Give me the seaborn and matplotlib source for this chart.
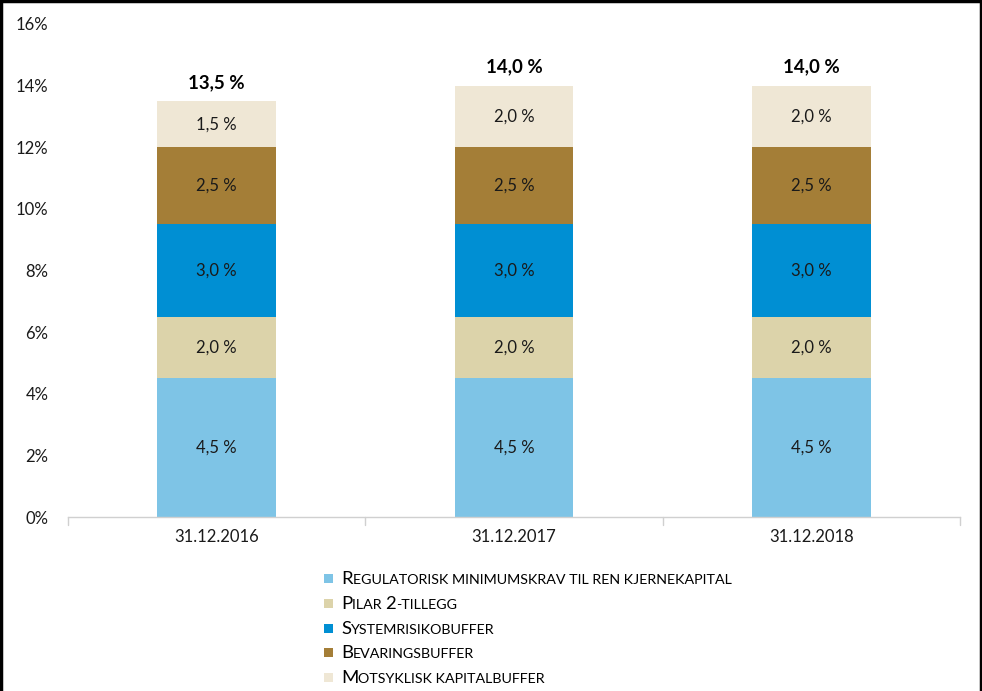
import matplotlib
matplotlib.use("Agg")
import matplotlib.pyplot as plt
import seaborn as sns
import pandas as pd
import numpy as np
from matplotlib.patches import Rectangle
from matplotlib.lines import Line2D

dates = ["31.12.2016", "31.12.2017", "31.12.2018"]
series = ["Regulatorisk minimumskrav til ren kjernekapital", "Pilar 2-tillegg",
          "Systemrisikobuffer", "Bevaringsbuffer", "Motsyklisk kapitalbuffer"]
regulatorisk = [4.5, 4.5, 4.5]
pilar2 = [2.0, 2.0, 2.0]
systemrisiko = [3.0, 3.0, 3.0]
bevaring = [2.5, 2.5, 2.5]
motsyklisk = [1.5, 2.0, 2.0]
totals = [13.5, 14.0, 14.0]
colors = ["#7EC4E6", "#DCD3AA", "#008FD3", "#A47E37", "#EFE7D5"]

sns.set_theme(style="white")
plt.rcParams['font.family'] = ['Lato', 'DejaVu Sans']

values = [regulatorisk, pilar2, systemrisiko, bevaring, motsyklisk]
cum = np.cumsum(np.array(values), axis=0)

fig = plt.figure(figsize=(9.82, 6.91), dpi=100)
ax = fig.add_axes([68/982, 1-517/691, (960-68)/982, (517-24)/691])

# draw cumulative bars from top segment down so lower ones overlay
for i in range(len(series)-1, -1, -1):
    df = pd.DataFrame({"date": dates, "val": cum[i]})
    sns.barplot(data=df, x="date", y="val", color=colors[i], width=0.4,
                saturation=1, ax=ax, linewidth=0, edgecolor="none", zorder=2)

for j in range(len(dates)):
    for i in range(len(series)):
        bottom = cum[i][j] - values[i][j]
        mid = bottom + values[i][j]/2
        ax.text(j, mid, f"{values[i][j]:.1f} %".replace(".", ","), ha="center",
                va="center", fontsize=12, color="#1a1a1a", zorder=3)
    ax.text(j, totals[j] + 0.6, f"{totals[j]:.1f} %".replace(".", ","), ha="center",
            va="center", fontsize=13.5, fontweight="bold", color="black", zorder=3)

ax.set_ylim(0, 16)
ax.set_xlim(-0.5, 2.5)
ax.set_yticks(np.arange(0, 17, 2))
ax.set_yticklabels([f"{v}%" for v in range(0, 17, 2)], fontsize=12, color="#1a1a1a")
ax.set_xticks([0, 1, 2])
ax.set_xticklabels(dates, fontsize=12, color="#1a1a1a")
ax.set_xlabel("")
ax.set_ylabel("")
for s in ["top", "right", "left"]:
    ax.spines[s].set_visible(False)
ax.spines["bottom"].set_color("#D0D0D0")
ax.spines["bottom"].set_linewidth(1)
ax.tick_params(axis="y", length=0, pad=14)
ax.tick_params(axis="x", length=0, pad=9)
for xb in [-0.5, 0.5, 1.5, 2.5]:
    ax.plot([xb, xb], [0, -0.25], color="#D0D0D0", lw=1, clip_on=False, zorder=1)

# small-caps legend
def segments(label):
    segs = []
    for ch in label:
        big = ch.isupper() or ch.isdigit()
        c = ch.upper()
        if segs and segs[-1][1] == big:
            segs[-1][0] += c
        else:
            segs.append([c, big])
    return segs

fig.canvas.draw()
renderer = fig.canvas.get_renderer()
W, H = 982, 691
row_y = [578, 603, 628, 652, 677]
for i, label in enumerate(series):
    yc = row_y[i]
    fig.patches.append(Rectangle(((324)/W, 1-(yc+5)/H), 9/W, 9/H,
                                 transform=fig.transFigure, facecolor=colors[i],
                                 edgecolor="none"))
    x = 341
    for text, big in segments(label):
        t = fig.text(x/W, 1-(yc+6)/H, text, fontsize=13.3 if big else 10.3,
                     ha="left", va="baseline", color="black")
        bb = t.get_window_extent(renderer)
        x += bb.width

# frame on left, top, right
fig.add_artist(Line2D([1/W, 1/W], [0, 1], color="black", lw=2.5, transform=fig.transFigure))
fig.add_artist(Line2D([0, 1], [1-1/H, 1-1/H], color="black", lw=2.5, transform=fig.transFigure))
fig.add_artist(Line2D([981/W, 981/W], [0, 1], color="black", lw=2.5, transform=fig.transFigure))

fig.savefig("out.png", dpi=100)
